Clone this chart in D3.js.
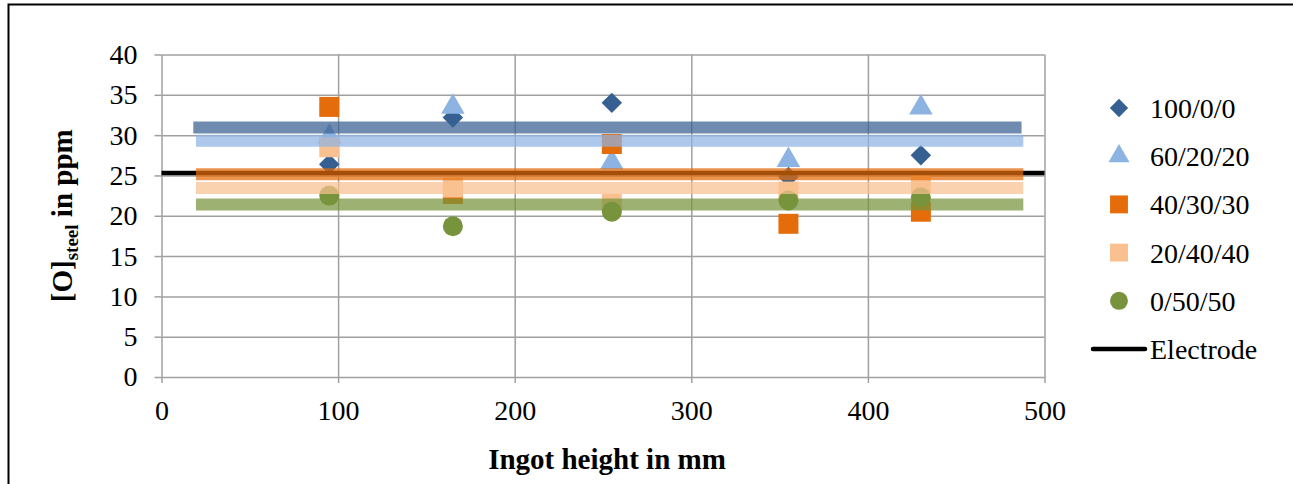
<!DOCTYPE html>
<html>
<head>
<meta charset="utf-8">
<script src="https://cdn.jsdelivr.net/npm/d3@7"></script>
<style>
  body { margin: 0; background: #fff; }
  svg { display: block; }
  svg text { font-family: "Liberation Serif", "Times New Roman", "DejaVu Serif", serif; fill: #000; }
  .axis path, .axis line { stroke: #a0a0a0; stroke-width: 1.5; }
  .axis text { font-size: 28px; }
  .grid line { stroke: #a0a0a0; stroke-width: 1.5; }
  .grid path { display: none; }
  .legend text { font-size: 28px; }
</style>
</head>
<body>
<div id="chart"></div>
<script>
const WIDTH = 1293, HEIGHT = 484;
const LEFT = 161.5, RIGHT = 1044.5, TOP = 54.5, BOTTOM = 377;

// ingot heights (mm)
const heights = [95, 165, 255, 355, 430];
const seriesNames = ["100/0/0", "60/20/20", "40/30/30", "20/40/40", "0/50/50"];
const s100_0_0 = [26.4, 32.2, 34.0, 24.8, 27.5];
const s60_20_20 = [29.8, 33.5, 26.6, 26.9, 33.4];
const s40_30_30 = [33.5, 22.7, 28.9, 19.0, 20.5];
const s20_40_40 = [28.5, 23.5, 21.5, 23.0, 24.0];
const s0_50_50 = [22.5, 18.7, 20.5, 21.9, 22.3];
// trend (mean) levels of each series
const trendLevels = [30.95, 29.3, 25.15, 23.45, 21.4];
const trendFrom = [18, 19.5, 19.5, 19.5, 19.5];
const trendTo = [487, 488, 488, 488, 488];
// electrode oxygen
const electrode = 25.3;
const xTicks = [0, 100, 200, 300, 400, 500];
const yTicks = [0, 5, 10, 15, 20, 25, 30, 35, 40];

const colors = ["#376092", "#8db3e2", "#e46c0a", "#fac090", "#77933c"];
const shapes = [d3.symbolSquare, d3.symbolTriangle, d3.symbolSquare, d3.symbolSquare, d3.symbolCircle];
const sizes = [210, 240, 400, 400, 315];
const rotations = [45, 0, 0, 0, 0];
const allSeries = [s100_0_0, s60_20_20, s40_30_30, s20_40_40, s0_50_50];

const svg = d3.select("#chart").append("svg").attr("width", WIDTH).attr("height", HEIGHT);

// outer frame
svg.append("rect")
  .attr("x", 8.5).attr("y", 4.5)
  .attr("width", 1295).attr("height", 520)
  .attr("fill", "none").attr("stroke", "#000").attr("stroke-width", 2);

const x = d3.scaleLinear().domain([0, 500]).range([LEFT, RIGHT]);
const y = d3.scaleLinear().domain([0, 40]).range([BOTTOM, TOP]);

// grid
svg.append("g").attr("class", "grid")
  .attr("transform", `translate(0, ${BOTTOM})`)
  .call(d3.axisBottom(x).tickValues(xTicks.slice(1)).tickSize(-(BOTTOM - TOP)).tickFormat(""));
svg.append("g").attr("class", "grid")
  .attr("transform", `translate(${LEFT}, 0)`)
  .call(d3.axisLeft(y).tickValues(yTicks.slice(1)).tickSize(-(RIGHT - LEFT)).tickFormat(""));

// axes
svg.append("g").attr("class", "axis")
  .attr("transform", `translate(0, ${BOTTOM})`)
  .call(d3.axisBottom(x).tickValues(xTicks).tickSizeInner(6).tickSizeOuter(0).tickPadding(17))
  .attr("font-family", null);
svg.append("g").attr("class", "axis")
  .attr("transform", `translate(${LEFT}, 0)`)
  .call(d3.axisLeft(y).tickValues(yTicks).tickSizeInner(7).tickSizeOuter(0).tickPadding(17))
  .attr("font-family", null);

// axis titles
svg.append("text")
  .attr("x", (LEFT + RIGHT) / 2 + 4).attr("y", 469)
  .attr("text-anchor", "middle")
  .attr("font-weight", "bold").attr("font-size", 29)
  .text("Ingot height in mm");

const yTitle = svg.append("text")
  .attr("transform", `translate(72, ${(TOP + BOTTOM) / 2}) rotate(-90)`)
  .attr("text-anchor", "middle")
  .attr("font-weight", "bold").attr("font-size", 29);
yTitle.append("tspan").text("[O]");
yTitle.append("tspan").attr("font-size", 19).attr("dy", 6).text("steel");
yTitle.append("tspan").attr("dy", -6).text(" in ppm");

// markers
allSeries.forEach((vals, i) => {
  svg.append("g").selectAll("path")
    .data(vals)
    .join("path")
    .attr("transform", (d, j) => `translate(${x(heights[j])}, ${y(d)}) rotate(${rotations[i]})`)
    .attr("d", d3.symbol(shapes[i], sizes[i]))
    .attr("fill", colors[i]);
});

// electrode line
svg.append("line")
  .attr("x1", x(0)).attr("x2", x(500))
  .attr("y1", y(electrode)).attr("y2", y(electrode))
  .attr("stroke", "#000").attr("stroke-width", 4.5);

// trend bands
trendLevels.forEach((v, i) => {
  svg.append("line")
    .attr("x1", x(trendFrom[i])).attr("x2", x(trendTo[i]))
    .attr("y1", y(v)).attr("y2", y(v))
    .attr("stroke", colors[i]).attr("stroke-width", 12)
    .attr("stroke-opacity", 0.72);
});

// legend
const legend = svg.append("g").attr("class", "legend");
seriesNames.forEach((name, i) => {
  const ly = 108 + i * 48.2;
  legend.append("path")
    .attr("transform", `translate(1119, ${ly}) rotate(${rotations[i]})`)
    .attr("d", d3.symbol(shapes[i], sizes[i] * 0.8))
    .attr("fill", colors[i]);
  legend.append("text").attr("x", 1150).attr("y", ly + 10).text(name);
});
legend.append("line")
  .attr("x1", 1093).attr("x2", 1145).attr("y1", 349).attr("y2", 349)
  .attr("stroke", "#000").attr("stroke-width", 4.5).attr("stroke-linecap", "round");
legend.append("text").attr("x", 1150).attr("y", 359).text("Electrode");
</script>
</body>
</html>
